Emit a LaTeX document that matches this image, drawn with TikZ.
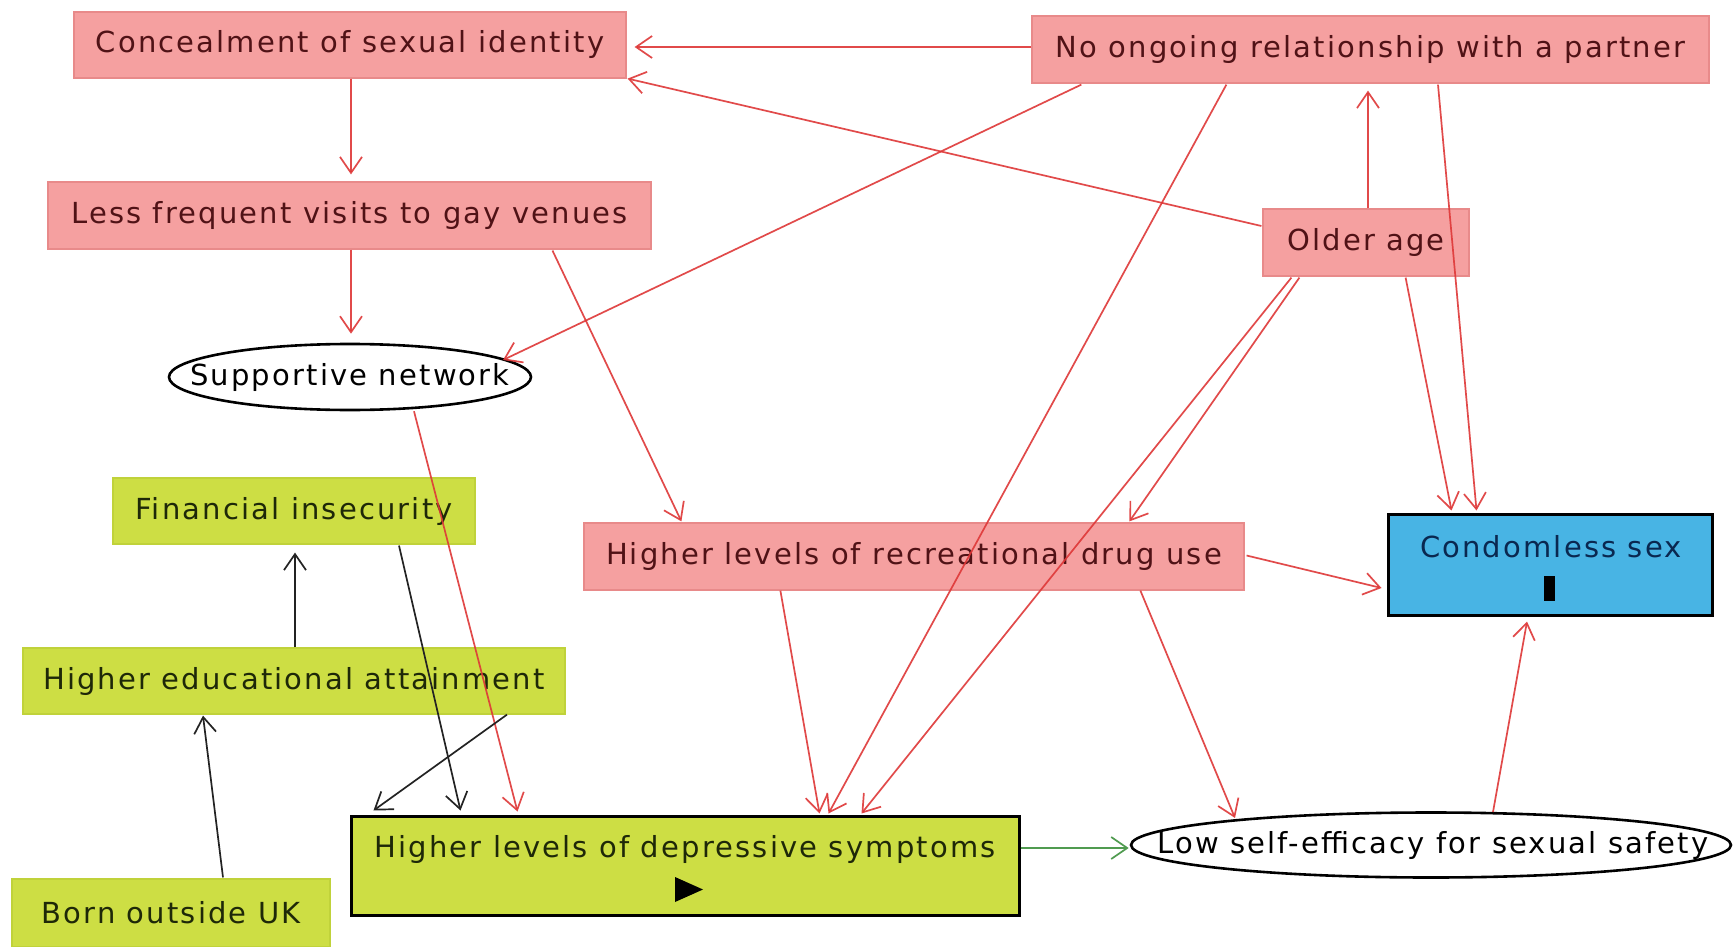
\documentclass[tikz,border=0pt]{standalone}
\usepackage{fontspec}
\setmainfont{DejaVu Sans}[LetterSpace=7.5]
\usetikzlibrary{arrows.meta,shapes.geometric,calc}

\definecolor{pinkfill}{RGB}{245,160,160}
\definecolor{pinkline}{RGB}{232,138,138}
\definecolor{pinktext}{RGB}{80,18,22}
\definecolor{limefill}{RGB}{205,222,68}
\definecolor{limeline}{RGB}{192,210,58}
\definecolor{limetext}{RGB}{30,40,8}
\definecolor{skyfill}{RGB}{72,180,228}
\definecolor{skytext}{RGB}{10,40,80}
\definecolor{redarrow}{RGB}{222,55,55}
\definecolor{blackarrow}{RGB}{35,35,35}
\definecolor{greenarrow}{RGB}{80,155,80}

\newcommand\lbl{\fontsize{14.5}{16}\selectfont}

\tikzset{
  box/.style={rectangle, inner sep=0pt, font=\lbl},
  pinkbox/.style={box, fill=pinkfill, draw=pinkline, line width=0.6pt, text=pinktext},
  limebox/.style={box, fill=limefill, draw=limeline, line width=0.6pt, text=limetext},
  keybox/.style={box, draw=black, line width=1.5pt},
  oval/.style={ellipse, inner sep=0pt, draw=black, line width=1.3pt, fill=white},
  label/.style={inner sep=0pt, font=\lbl},
  arr/.style={-{Straight Barb[length=8pt,width=11pt]}, line width=0.85pt},
  redarr/.style={arr, draw=redarrow, draw opacity=0.9},
  blackarr/.style={arr, draw=blackarrow},
  greenarr/.style={arr, draw=greenarrow},
}

\begin{document}
\begin{tikzpicture}[x=0.5pt,y=-0.5pt]
\useasboundingbox (0,0) rectangle (1735,947);
\fill[white] (0,0) rectangle (1735,947);

% variables
\node[pinkbox, minimum width=276pt, minimum height=33pt] (conc) at (350,45) {Concealment of sexual identity};
\node[pinkbox, minimum width=338.5pt, minimum height=33.5pt] (noong) at (1370.5,49.5) {No ongoing relationship with a partner};
\node[pinkbox, minimum width=301.5pt, minimum height=33.5pt] (less) at (349.5,215.5) {Less frequent visits to gay venues};
\node[pinkbox, minimum width=103pt, minimum height=33.5pt] (older) at (1366,242.5) {Older age};
\node[oval, minimum width=181pt, minimum height=33pt] (supp) at (350,377) {};
\node[label] (supplbl) at (350,377) {Supportive network};
\node[limebox, minimum width=181pt, minimum height=33pt] (fin) at (294,511) {Financial insecurity};
\node[pinkbox, minimum width=330pt, minimum height=33.5pt] (rec) at (914,556.5) {Higher levels of recreational drug use};
\node[keybox, fill=skyfill, minimum width=162pt, minimum height=50.5pt] (cond) at (1550,564.5) {};
\node[label, text=skytext] (condlbl) at (1551,547) {Condomless sex};
\node[limebox, minimum width=271pt, minimum height=33pt] (edu) at (294,681) {Higher educational attainment};
\node[keybox, fill=limefill, minimum width=334pt, minimum height=49.5pt] (dep) at (685,865.5) {};
\node[label, text=limetext] (deplbl) at (685,849) {Higher levels of depressive symptoms};
\node[oval, minimum width=300pt, minimum height=32.5pt] (low) at (1431,845) {};
\node[label] (lowlbl) at (1433,845) {Low self-efficacy for sexual safety};
\node[limebox, minimum width=159pt, minimum height=34pt] (born) at (171,913) {Born outside UK};

% exposure and outcome markers
\fill[black] (675,877) -- (703,889.5) -- (675,902) -- cycle;
\fill[black] (1544,576) rectangle (1555,601);

% causal paths
\draw[redarr] ($(noong.west)+(0,-2.5)$) -- ($(conc.east)+(8,2)$);
\draw[redarr] ($(older.west)+(-1,-16.5)$) -- ($(conc.south east)+(1,0)$);
\draw[redarr] ($(conc.south)+(1,0)$) -- ($(less.north)+(1.5,-7)$);
\draw[redarr] ($(less.south)+(1.5,0)$) -- ($(supp.north)+(1,-9)$);
\draw[redarr] ($(noong.south west)+(50,1)$) -- ($(supp.center)+(153,-17)$);
\draw[redarr] ($(less.south)+(203,1)$) -- ($(rec.north west)+(98,-1)$);
\draw[redarr] ($(supp.south)+(64,0)$) -- ($(dep.north west)+(168,-3)$);
\draw[blackarr] ($(fin.south)+(105,1)$) -- ($(dep.north west)+(111,-4)$);
\draw[blackarr] ($(edu.north)+(1,0)$) -- ($(fin.south)+(1,8)$);
\draw[blackarr] ($(born.north)+(52,-1)$) -- ($(edu.south)+(-91,1)$);
\draw[blackarr] ($(edu.south)+(213,0)$) -- ($(dep.north west)+(24,-4)$);
\draw[redarr] ($(noong.south west)+(195,1)$) -- ($(dep.north west)+(479,-1)$);
\draw[redarr] ($(older.south west)+(29,1)$) -- ($(dep.north west)+(512,-1)$);
\draw[redarr] ($(older.south west)+(37,1)$) -- ($(rec.north west)+(546,-1)$);
\draw[redarr] ($(older.north)+(2,0)$) -- ($(noong.south)+(-2.5,7)$);
\draw[redarr] ($(older.south east)+(-64,1)$) -- ($(cond.north west)+(65,-2)$);
\draw[redarr] ($(noong.south)+(67.5,1)$) -- ($(cond.north west)+(90,-2)$);
\draw[redarr] ($(rec.east)+(2,-1)$) -- ($(cond.west)+(-5,23.5)$);
\draw[redarr] ($(rec.south west)+(197,0)$) -- ($(dep.north west)+(470,-1)$);
\draw[redarr] ($(rec.south west)+(557,0)$) -- ($(low.center)+(-196,-27)$);
\draw[redarr] ($(low.center)+(62,-33)$) -- ($(cond.south)+(-23,5)$);
\draw[greenarr] ($(dep.east)+(0,-17.5)$) -- ($(low.west)+(-1,3)$);
\end{tikzpicture}
\end{document}
